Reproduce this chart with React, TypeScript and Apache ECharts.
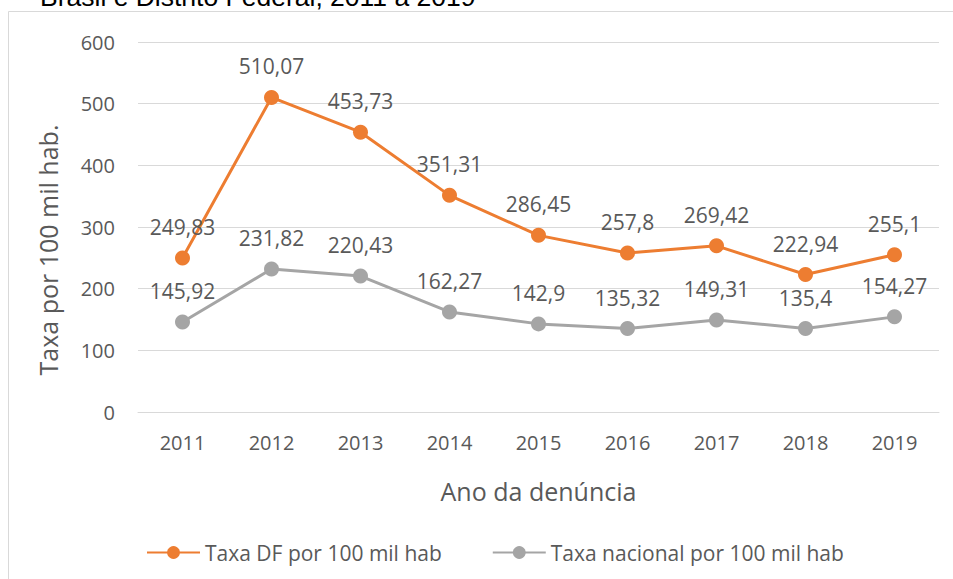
import React, { useEffect, useRef } from "react";
import * as echarts from "echarts";

const years = ["2011", "2012", "2013", "2014", "2015", "2016", "2017", "2018", "2019"];
const dfRates = [249.83, 510.07, 453.73, 351.31, 286.45, 257.8, 269.42, 222.94, 255.1];
const nationalRates = [145.92, 231.82, 220.43, 162.27, 142.9, 135.32, 149.31, 135.4, 154.27];
const seriesNames = ["Taxa DF por 100 mil hab", "Taxa nacional por 100 mil hab"];
const titleText = "Brasil e Distrito Federal, 2011 a 2019";
const yAxisTitle = "Taxa por 100 mil hab.";
const xAxisTitle = "Ano da denúncia";

const FONT = "'Open Sans', sans-serif";
const TXT = "#595959";

export default function App() {
  const ref = useRef<HTMLDivElement>(null);
  useEffect(() => {
    if (!ref.current) return;
    const chart = echarts.init(ref.current, undefined, { renderer: "svg" });
    const label = {
      show: true,
      position: "top",
      distance: 13,
      color: TXT,
      fontFamily: FONT,
      fontSize: 21,
      formatter: (p: any) => String(p.value).replace(".", ","),
    };
    chart.setOption({
      animation: false,
      backgroundColor: "#ffffff",
      textStyle: { fontFamily: FONT },
      graphic: [
        {
          type: "rect",
          shape: { x: 8.5, y: 11.5, width: 1000, height: 700 },
          style: { fill: "none", stroke: "#d9d9d9", lineWidth: 1 },
          silent: true,
          z: -10,
        },
        {
          type: "text",
          x: 40,
          y: -3,
          style: {
            text: titleText,
            fontFamily: "'Liberation Sans', Arial, sans-serif",
            fontSize: 26.5,
            fill: "#000000",
            align: "left",
            verticalAlign: "middle",
          },
        },
        {
          type: "text",
          x: 48,
          y: 250,
          rotation: Math.PI / 2,
          style: {
            text: yAxisTitle,
            fontFamily: FONT,
            fontSize: 25,
            fill: TXT,
            align: "center",
            verticalAlign: "middle",
          },
        },
      ],
      grid: { left: 138, right: 14, top: 42, bottom: 167, containLabel: false },
      legend: {
        left: 141,
        top: 537,
        itemWidth: 53,
        itemHeight: 16,
        itemGap: 50,
        textStyle: { color: TXT, fontFamily: FONT, fontSize: 21 },
        data: seriesNames,
      },
      xAxis: {
        type: "category",
        data: years,
        boundaryGap: true,
        name: xAxisTitle,
        nameLocation: "middle",
        nameGap: 66,
        nameTextStyle: { color: TXT, fontFamily: FONT, fontSize: 25 },
        axisLine: { show: true, lineStyle: { color: "#d9d9d9", width: 1 } },
        axisTick: { show: false },
        axisLabel: { color: TXT, fontFamily: FONT, fontSize: 20, margin: 20 },
      },
      yAxis: {
        type: "value",
        min: 0,
        max: 600,
        interval: 100,
        axisLine: { show: false },
        axisTick: { show: false },
        axisLabel: { color: TXT, fontFamily: FONT, fontSize: 20, margin: 23 },
        splitLine: { lineStyle: { color: "#d9d9d9", width: 1 } },
      },
      series: [
        {
          name: seriesNames[0],
          type: "line",
          data: dfRates,
          symbol: "circle",
          symbolSize: 15,
          color: "#ED7D31",
          lineStyle: { color: "#ED7D31", width: 3 },
          itemStyle: { color: "#ED7D31" },
          label,
          z: 3,
        },
        {
          name: seriesNames[1],
          type: "line",
          data: nationalRates,
          symbol: "circle",
          symbolSize: 15,
          color: "#A5A5A5",
          lineStyle: { color: "#A5A5A5", width: 3 },
          itemStyle: { color: "#A5A5A5" },
          label,
          z: 2,
        },
      ],
    });
    return () => chart.dispose();
  }, []);
  return (
    <div
      ref={ref}
      style={{ position: "fixed", left: 0, top: 0, width: 953, height: 579 }}
    />
  );
}
